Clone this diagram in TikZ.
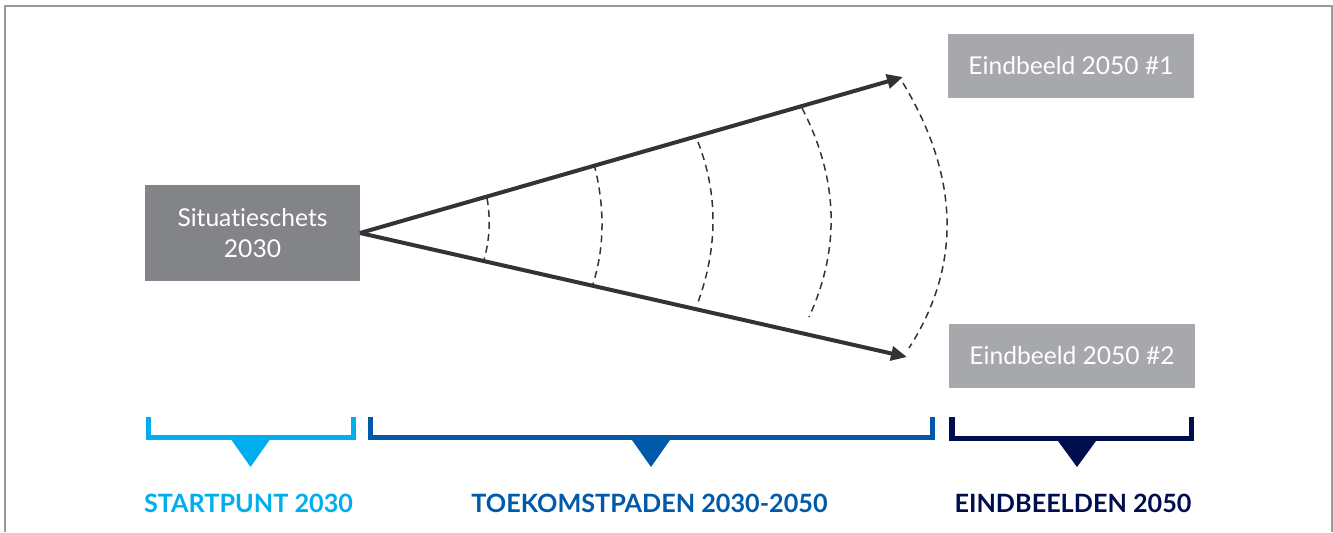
\documentclass[tikz,border=0pt]{standalone}
\usepackage{fontspec}
\setmainfont{Lato}[Ligatures={NoCommon}]
\usetikzlibrary{arrows.meta,positioning}

\definecolor{blokdonker}{HTML}{838487}
\definecolor{bloklicht}{HTML}{A7A8AB}
\definecolor{pijl}{HTML}{333333}
\definecolor{cyaan}{HTML}{00AEEF}
\definecolor{middenblauw}{HTML}{0059A9}
\definecolor{donkerblauw}{HTML}{000E4D}
\definecolor{kader}{HTML}{9A9A9A}

\begin{document}
\begin{tikzpicture}[
  x=0.5pt,y=-0.5pt,
  font=\fontsize{12.3}{15.5}\selectfont,
  >={Triangle[length=8pt,width=7pt]},
  blok/.style={inner sep=0pt,outer sep=0pt,minimum width=123pt,minimum height=32pt,
               align=center,text=white,fill=bloklicht},
  fase/.style={font=\fontsize{12.6}{14}\selectfont\bfseries,anchor=base},
  pad/.style={draw=pijl,line width=2pt},
  grens/.style={draw=pijl,line width=0.75pt,dash pattern=on 3.5pt off 2.5pt},
  haak/.style={line width=2.8pt,line join=miter}
]
\useasboundingbox (0,0) rectangle (1333,532);

% kader
\draw[kader,line width=1pt] (5,532) -- (5,6) -- (1332,6) -- (1332,532);

\node[blok,fill=blokdonker,minimum width=107.5pt,minimum height=48pt] (start) at (252.5,233)
  {Situatieschets\\2030};
\node[blok] (eind1) at (1071,66) {Eindbeeld 2050 \#1};
\node[blok,below=113pt of eind1.south west,anchor=north west,xshift=0.5pt] (eind2) {Eindbeeld 2050 \#2};

\coordinate (p1) at (903,77);
\coordinate (p2) at (907,357);

\draw[pad,->] (start.east) -- (p1);
\draw[pad,->] (start.east) -- (p2);

% bogen tussen de paden
\draw[grens] (487,198) .. controls (490.7,218.7) and (489.7,239.3) .. (484,260);
\draw[grens] (594,164) .. controls (605,206.7) and (604.7,246.7) .. (593,284);
\draw[grens] (698,142) .. controls (718.3,194.3) and (718,248.7) .. (697,305);
\draw[grens] (802,108) .. controls (838.3,178.3) and (840.7,248) .. (809,317);
\draw[grens] (903,83) .. controls (959.7,177.3) and (961.7,265.7) .. (909,348);

% haken met fasen
\draw[haak,cyaan] (148.5,417) -- (148.5,437.5) -- (353.5,437.5) -- (353.5,417);
\fill[cyaan] (231.5,440) -- (269.5,440) -- (250.5,467) -- cycle;
\node[fase,text=cyaan] (f1) at (248.5,512) {STARTPUNT 2030};

\draw[haak,middenblauw] (370.5,417) -- (370.5,437.5) -- (932.5,437.5) -- (932.5,417);
\fill[middenblauw] (632,440) -- (670,440) -- (651,467) -- cycle;
\node[fase,text=middenblauw] (f2) at (649.5,512) {TOEKOMSTPADEN 2030-2050};

\draw[haak,donkerblauw] (952,417) -- (952,438.5) -- (1191.5,438.5) -- (1191.5,417);
\fill[donkerblauw] (1058,441) -- (1096,441) -- (1077,467) -- cycle;
\node[fase,text=donkerblauw] (f3) at (1073,512) {EINDBEELDEN 2050};

\end{tikzpicture}
\end{document}
